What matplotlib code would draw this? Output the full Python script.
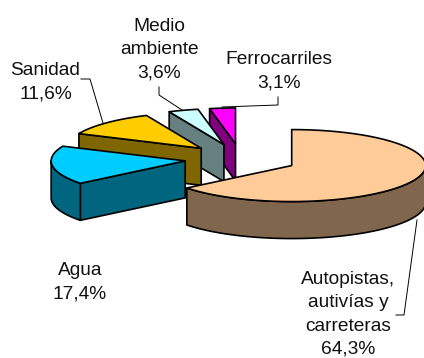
import numpy as np
import matplotlib
matplotlib.use('Agg')
import matplotlib.pyplot as plt
from matplotlib.patches import Polygon

plt.rcParams['font.family'] = ['Liberation Sans', 'DejaVu Sans']

# Share of investment by sector (%)
sectors = ['Autopistas,\nautivías y\ncarreteras', 'Agua', 'Sanidad', 'Medio\nambiente', 'Ferrocarriles']
values = [64.3, 17.4, 11.6, 3.6, 3.1]
value_labels = ['64,3%', '17,4%', '11,6%', '3,6%', '3,1%']
top_colors = ['#FFCC99', '#00CCFF', '#FFCC00', '#CCFFFF', '#FF00FF']
side_colors = ['#80664D', '#006680', '#806600', '#668080', '#800080']

# pie geometry in pixels
cx, cy = 241, 159
rx, ry = 134, 36
depth = 37
explode = 0.42
edge = dict(edgecolor='black', linewidth=1.2, joinstyle='round')

fig = plt.figure(figsize=(4.24, 3.58), dpi=100)
ax = fig.add_axes([0, 0, 1, 1])
ax.set_xlim(0, 424)
ax.set_ylim(358, 0)
ax.axis('off')


def rim(x0, y0, a, b):
    t = np.radians(np.linspace(a, b, 60))
    return np.column_stack([x0 + rx * np.sin(t), y0 - ry * np.cos(t)])


# slice angles clockwise from 12 o'clock
ends = np.cumsum(values) / np.sum(values) * 360
starts = ends - np.array(values) / np.sum(values) * 360

# back slices first so the front ones cover them
for i in [4, 3, 2, 1, 0]:
    a, b = starts[i], ends[i]
    mid = np.radians((a + b) / 2)
    x0 = cx + explode * rx * np.sin(mid)
    y0 = cy - explode * ry * np.cos(mid)
    down = np.array([0, depth])
    apex = np.array([x0, y0])

    # flat side on the first radius, only when it faces the viewer
    if i != 0:
        p = rim(x0, y0, a, a)[0]
        ax.add_patch(Polygon([apex, p, p + down, apex + down], facecolor=side_colors[i], **edge))

    # curved wall, front half of the ellipse only
    lo, hi = max(a, 90), min(b, 270)
    if lo < hi:
        r = rim(x0, y0, lo, hi)
        ax.add_patch(Polygon(np.vstack([r, (r + down)[::-1]]), facecolor=side_colors[i], **edge))

    ax.add_patch(Polygon(np.vstack([[apex], rim(x0, y0, a, b)]), facecolor=top_colors[i], **edge))

# leader lines
leaders = [
    ([417, 404, 396], [220, 315, 315]),
    ([81, 90, 103], [79, 79, 123]),
    ([159, 159, 182], [87, 95, 110]),
    ([222, 278, 278], [107, 105, 97]),
]
for lx, ly in leaders:
    ax.plot(lx, ly, color='black', linewidth=0.7)

# labels
label_pos = [(348, 314.5), (80, 282), (45.5, 82.5), (159.5, 49.5), (278.5, 71.5)]
for name, val, (tx, ty) in zip(sectors, value_labels, label_pos):
    ax.text(tx, ty, name + '\n' + val, ha='center', va='center', fontsize=13.8,
            color='#111111', linespacing=1.48, clip_on=True)

fig.savefig('out.png', dpi=100)
